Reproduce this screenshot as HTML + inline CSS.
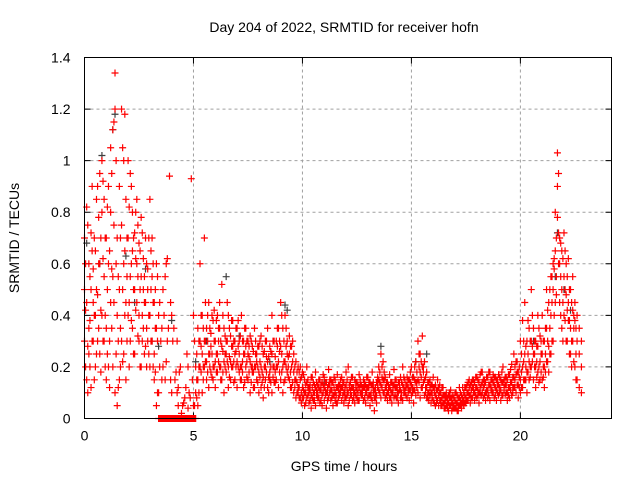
<!DOCTYPE html>
<html><head><meta charset="utf-8"><style>
html,body{margin:0;padding:0;background:#fff;}
svg text{font-family:"Liberation Sans",sans-serif;font-size:14px;fill:#000;}
</style></head><body>
<svg id="chart" width="640" height="480" viewBox="0 0 640 480" xmlns="http://www.w3.org/2000/svg">
<rect width="640" height="480" fill="#fff"/>
<text x="344" y="32" text-anchor="middle">Day 204 of 2022, SRMTID for receiver hofn</text>
<text x="344" y="471" text-anchor="middle">GPS time / hours</text>
<text transform="translate(19,238) rotate(-90)" text-anchor="middle">SRMTID / TECUs</text>
<g id="grid"></g>
<g id="ticks"></g>
<g id="marks"></g>
<rect x="84.5" y="57.5" width="527" height="361" fill="none" stroke="#000" stroke-width="1"/>
</svg>
<script>
const xTicks=[0,5,10,15,20];
const yTicks=[0,0.2,0.4,0.6,0.8,1,1.2,1.4];
const yTickLabels=["0","0.2","0.4","0.6","0.8","1","1.2","1.4"];
const slotStart=0, slotStep=0.1;
const redVals=[
[0.3,0.7,0.5],[0.15,0.45,0.82],[0.25,0.6,0.35],[0.12,0.5,0.72],[0.3,0.58,0.45],[0.2,0.65,0.4],[0.48,0.9,0.3],[0.6,0.95,0.25],[0.8,1.0,0.4],[0.55,0.85,0.3],
[0.35,0.7,0.15],[0.6,0.9,0.2],[0.45,0.8,1.05],[0.2,1.12,0.55],[1.34,1.2,0.1],[0.4,0.7,0.05],[0.15,0.5,0.9],[0.75,0.3,1.2],[1.0,0.6,0.25],[0.45,0.85,0.15],
[0.7,1.0,0.4],[0.55,0.95,0.3],[0.8,0.65,0.35],[0.5,0.72,0.25],[0.6,0.85,0.45],[0.4,0.68,0.3],[0.55,0.78,0.2],[0.35,0.62,0.5],[0.45,0.7,0.28],[0.3,0.5,0.58],
[0.85,0.4,0.2],[0.55,0.3,0.7],[0.25,0.45,0.15],[0.35,0.6,0.05],[0.1,0.4,0.0],[0.0,0.3,0.0],[0.2,0.5,0.0],[0.0,0.55,0.15],[0.62,0.0,0.3],[0.0,0.94,0.0],
[0.1,0.0,0.4],[0.0,0.35,0.0],[0.0,0.18,0.0],[0.05,0.0,0.12],[0.0,0.2,0.0],[0.0,0.05,0.0],[0.0,0.08,0.0],[0.0,0.25,0.0],[0.0,0.1,0.0],[0.0,0.93,0.0],
[0.0,0.05,0.4],[0.1,0.0,0.2],[0.15,0.35,0.05],[0.2,0.6,0.3],[0.25,0.4,0.1],[0.3,0.7,0.2],[0.35,0.15,0.22],[0.25,0.45,0.12],[0.28,0.18,0.33],[0.2,0.38,0.15],
[0.3,0.22,0.12],[0.25,0.4,0.18],[0.35,0.2,0.45],[0.28,0.15,0.52],[0.22,0.35,0.1],[0.3,0.18,0.25],[0.2,0.4,0.12],[0.32,0.22,0.15],[0.28,0.2,0.38],[0.25,0.15,0.3],
[0.22,0.35,0.12],[0.3,0.18,0.25],[0.4,0.2,0.15],[0.25,0.3,0.12],[0.2,0.35,0.28],[0.15,0.25,0.3],[0.22,0.1,0.32],[0.28,0.18,0.2],[0.2,0.35,0.12],[0.15,0.25,0.22],
[0.18,0.28,0.1],[0.2,0.12,0.32],[0.25,0.16,0.08],[0.15,0.3,0.2],[0.22,0.12,0.35],[0.18,0.28,0.15],[0.25,0.4,0.1],[0.2,0.14,0.3],[0.3,0.2,0.15],[0.22,0.35,0.12],
[0.28,0.15,0.45],[0.2,0.35,0.1],[0.4,0.22,0.15],[0.3,0.18,0.25],[0.25,0.15,0.32],[0.2,0.12,0.28],[0.18,0.1,0.25],[0.15,0.22,0.08],[0.2,0.12,0.1],[0.15,0.08,0.2],
[0.12,0.08,0.18],[0.1,0.05,0.15],[0.14,0.08,0.2],[0.06,0.12,0.1],[0.16,0.09,0.04],[0.1,0.14,0.07],[0.12,0.05,0.18],[0.08,0.13,0.1],[0.15,0.06,0.11],[0.09,0.14,0.05],
[0.12,0.07,0.16],[0.1,0.04,0.14],[0.13,0.08,0.19],[0.07,0.11,0.15],[0.14,0.09,0.05],[0.1,0.15,0.07],[0.12,0.06,0.17],[0.09,0.13,0.1],[0.16,0.07,0.12],[0.1,0.14,0.06],
[0.13,0.08,0.18],[0.1,0.05,0.2],[0.14,0.09,0.11],[0.07,0.12,0.16],[0.15,0.1,0.06],[0.11,0.14,0.08],[0.12,0.07,0.17],[0.09,0.13,0.1],[0.15,0.07,0.12],[0.1,0.13,0.06],
[0.12,0.08,0.16],[0.09,0.05,0.14],[0.13,0.07,0.18],[0.08,0.11,0.03],[0.14,0.09,0.06],[0.11,0.15,0.2],[0.13,0.08,0.25],[0.1,0.15,0.22],[0.16,0.08,0.12],[0.1,0.14,0.07],
[0.12,0.08,0.17],[0.1,0.06,0.14],[0.13,0.08,0.19],[0.08,0.12,0.15],[0.14,0.1,0.06],[0.11,0.16,0.08],[0.13,0.07,0.2],[0.1,0.15,0.11],[0.16,0.08,0.13],[0.11,0.15,0.07],
[0.13,0.09,0.2],[0.11,0.06,0.16],[0.14,0.09,0.22],[0.15,0.3,0.1],[0.18,0.25,0.08],[0.2,0.32,0.12],[0.15,0.22,0.09],[0.12,0.18,0.08],[0.14,0.07,0.1],[0.1,0.13,0.06],
[0.12,0.07,0.16],[0.09,0.05,0.13],[0.11,0.07,0.15],[0.07,0.1,0.13],[0.12,0.08,0.05],[0.09,0.06,0.04],[0.08,0.05,0.1],[0.06,0.09,0.03],[0.08,0.05,0.11],[0.06,0.09,0.04],
[0.07,0.04,0.1],[0.06,0.03,0.09],[0.08,0.05,0.12],[0.06,0.09,0.04],[0.1,0.07,0.05],[0.08,0.12,0.06],[0.1,0.07,0.14],[0.09,0.13,0.06],[0.12,0.08,0.15],[0.1,0.14,0.07],
[0.12,0.08,0.16],[0.1,0.06,0.14],[0.13,0.09,0.18],[0.08,0.12,0.15],[0.14,0.1,0.07],[0.11,0.16,0.08],[0.13,0.07,0.18],[0.1,0.15,0.11],[0.16,0.08,0.13],[0.11,0.15,0.07],
[0.13,0.09,0.17],[0.11,0.07,0.15],[0.14,0.09,0.2],[0.09,0.13,0.16],[0.15,0.1,0.07],[0.12,0.17,0.08],[0.14,0.09,0.21],[0.12,0.16,0.25],[0.17,0.1,0.22],[0.13,0.18,0.08],
[0.15,0.1,0.3],[0.2,0.38,0.12],[0.25,0.15,0.45],[0.18,0.3,0.1],[0.22,0.15,0.35],[0.3,0.5,0.2],[0.25,0.35,0.15],[0.2,0.3,0.12],[0.28,0.18,0.4],[0.22,0.15,0.32],
[0.25,0.15,0.4],[0.3,0.2,0.12],[0.35,0.22,0.5],[0.28,0.18,0.45],[0.4,0.25,0.55],[0.5,0.3,0.6],[0.65,0.45,0.8],[0.78,1.03,0.9],[0.6,0.45,0.7],[0.5,0.35,0.65],
[0.55,0.4,0.72],[0.6,0.3,0.48],[0.45,0.38,0.62],[0.35,0.5,0.25],[0.42,0.3,0.55],[0.38,0.2,0.45],[0.3,0.15,0.4],[0.25,0.35,0.12],[0.2,0.3,0.1]
];
/* second, interleaved sampling (half-slot offset) covering 0.05 h .. 22.55 h */
const slotStart2=0.05;
const redVals2=[
[0.42,0.2,0.6],[0.28,0.75,0.1],[0.55,0.38,0.2],[0.65,0.3,0.9],[0.4,0.15,0.7],[0.5,0.25,0.85],[0.35,0.6,0.78],[0.42,0.18,0.7],[0.62,0.3,0.92],[0.7,0.4,0.2],
[0.5,0.25,0.82],[0.3,0.65,0.12],[0.58,0.95,0.35],[0.75,0.45,1.15],[0.6,0.25,1.0],[0.3,0.55,0.12],[0.35,0.7,0.2],[0.5,1.05,0.22],[0.65,0.4,1.18],[0.3,0.7,0.55],
[0.45,0.82,0.2],[0.6,0.38,0.9],[0.5,0.7,0.25],[0.42,0.62,0.8],[0.32,0.55,0.75],[0.5,0.2,0.65],[0.4,0.72,0.3],[0.55,0.25,0.45],[0.6,0.35,0.2],[0.4,0.7,0.25],
[0.5,0.3,0.65],[0.2,0.45,0.6],[0.35,0.18,0.5],[0.3,0.1,0.55],[0.0,0.2,0.45],[0.35,0.0,0.15],[0.0,0.4,0.0],[0.22,0.0,0.6],[0.0,0.35,0.0],[0.0,0.45,0.15],
[0.0,0.3,0.0],[0.0,0.15,0.0],[0.1,0.0,0.3],[0.0,0.18,0.0],[0.0,0.02,0.0],[0.06,0.0,0.0],[0.0,0.12,0.0],[0.0,0.04,0.2],[0.0,0.08,0.0],[0.0,0.15,0.0],
[0.05,0.0,0.3],[0.15,0.08,0.25],[0.3,0.2,0.1],[0.18,0.4,0.28],[0.35,0.2,0.15],[0.22,0.45,0.3],[0.3,0.18,0.4],[0.2,0.35,0.25],[0.4,0.25,0.16],[0.3,0.2,0.42],
[0.25,0.38,0.18],[0.35,0.22,0.3],[0.2,0.3,0.15],[0.4,0.26,0.18],[0.32,0.2,0.25],[0.22,0.45,0.3],[0.35,0.24,0.16],[0.28,0.38,0.2],[0.22,0.3,0.14],[0.35,0.2,0.26],
[0.28,0.2,0.38],[0.2,0.32,0.15],[0.3,0.22,0.18],[0.35,0.25,0.14],[0.22,0.3,0.16],[0.28,0.18,0.24],[0.3,0.2,0.14],[0.18,0.26,0.12],[0.25,0.2,0.3],[0.2,0.14,0.28],
[0.22,0.16,0.3],[0.28,0.18,0.14],[0.2,0.26,0.12],[0.24,0.18,0.3],[0.16,0.24,0.1],[0.26,0.2,0.14],[0.2,0.3,0.16],[0.24,0.14,0.18],[0.35,0.2,0.28],[0.18,0.26,0.3],
[0.25,0.18,0.4],[0.3,0.14,0.22],[0.2,0.28,0.35],[0.24,0.16,0.2],[0.18,0.28,0.12],[0.22,0.14,0.3],[0.15,0.2,0.12],[0.18,0.1,0.14],[0.12,0.18,0.08],[0.1,0.16,0.06],
[0.11,0.17,0.08],[0.13,0.06,0.1],[0.09,0.15,0.12],[0.11,0.07,0.13],[0.12,0.08,0.16],[0.1,0.13,0.07],[0.14,0.09,0.11],[0.08,0.12,0.15],[0.11,0.07,0.13],[0.13,0.1,0.17],
[0.09,0.14,0.11],[0.12,0.07,0.1],[0.15,0.1,0.13],[0.08,0.11,0.14],[0.12,0.16,0.09],[0.09,0.12,0.06],[0.13,0.08,0.11],[0.1,0.15,0.12],[0.12,0.09,0.14],[0.08,0.12,0.1],
[0.11,0.15,0.09],[0.13,0.07,0.12],[0.09,0.12,0.16],[0.12,0.1,0.08],[0.14,0.09,0.12],[0.1,0.13,0.07],[0.13,0.1,0.15],[0.09,0.12,0.11],[0.12,0.08,0.14],[0.1,0.16,0.12],
[0.12,0.09,0.14],[0.1,0.13,0.08],[0.14,0.1,0.12],[0.08,0.12,0.1],[0.12,0.16,0.14],[0.14,0.18,0.1],[0.12,0.2,0.16],[0.15,0.1,0.18],[0.12,0.14,0.09],[0.1,0.13,0.11],
[0.11,0.14,0.08],[0.13,0.1,0.12],[0.09,0.12,0.15],[0.12,0.1,0.08],[0.14,0.11,0.12],[0.1,0.14,0.08],[0.12,0.1,0.16],[0.09,0.13,0.12],[0.12,0.15,0.1],[0.14,0.18,0.11],
[0.12,0.16,0.1],[0.15,0.11,0.2],[0.12,0.18,0.14],[0.2,0.14,0.25],[0.16,0.22,0.12],[0.14,0.2,0.18],[0.12,0.16,0.1],[0.1,0.14,0.08],[0.12,0.09,0.15],[0.1,0.13,0.08],
[0.1,0.06,0.12],[0.08,0.11,0.06],[0.09,0.05,0.12],[0.07,0.1,0.05],[0.09,0.06,0.12],[0.07,0.04,0.09],[0.06,0.08,0.04],[0.08,0.05,0.1],[0.06,0.03,0.08],[0.05,0.08,0.04],
[0.06,0.1,0.04],[0.05,0.08,0.03],[0.07,0.1,0.05],[0.08,0.12,0.06],[0.09,0.06,0.12],[0.1,0.13,0.07],[0.09,0.12,0.15],[0.11,0.08,0.14],[0.1,0.15,0.12],[0.12,0.09,0.16],
[0.11,0.15,0.09],[0.12,0.17,0.1],[0.1,0.14,0.18],[0.13,0.09,0.15],[0.11,0.16,0.1],[0.13,0.09,0.18],[0.11,0.15,0.12],[0.14,0.1,0.17],[0.12,0.16,0.09],[0.1,0.13,0.15],
[0.12,0.16,0.1],[0.14,0.09,0.18],[0.11,0.15,0.12],[0.13,0.1,0.16],[0.12,0.17,0.09],[0.14,0.11,0.19],[0.12,0.16,0.1],[0.15,0.2,0.12],[0.13,0.18,0.22],[0.16,0.12,0.2],
[0.18,0.12,0.25],[0.15,0.22,0.3],[0.2,0.28,0.15],[0.25,0.18,0.38],[0.3,0.2,0.16],[0.22,0.4,0.28],[0.3,0.2,0.25],[0.28,0.16,0.22],[0.2,0.35,0.14],[0.25,0.18,0.3],
[0.2,0.3,0.16],[0.25,0.35,0.18],[0.3,0.42,0.22],[0.35,0.25,0.5],[0.45,0.3,0.55],[0.4,0.58,0.62],[0.55,0.7,0.48],[0.72,0.95,0.6],[0.55,0.4,0.68],[0.45,0.62,0.3],
[0.5,0.38,0.65],[0.42,0.55,0.3],[0.38,0.25,0.5],[0.3,0.45,0.2],[0.35,0.22,0.4],[0.25,0.35,0.15]
];
const grayT=[0.1,0.7,0.8,1.3,1.4,1.9,2.3,2.8,3.1,3.4,4.0,5.1,5.6,6.5,7.1,8.5,9.2,9.3,11.0,13.6,15.2,15.7,18.3,20.6,21.6,21.7,22.0,22.3];
const grayV=[0.68,0.6,1.02,1.12,1.18,0.63,0.45,0.58,0.3,0.28,0.38,0.22,0.3,0.55,0.32,0.22,0.44,0.42,0.14,0.28,0.22,0.25,0.12,0.3,0.55,0.72,0.5,0.42];
const X0=0, X1=24.18, Y0=0, Y1=1.4;
const L=84.5, R=611.5, T=57.5, B=418.5;
function sx(v){return L+(v-X0)/(X1-X0)*(R-L);}
function sy(v){return B-(v-Y0)/(Y1-Y0)*(B-T);}
const NS="http://www.w3.org/2000/svg";
const grid=document.getElementById('grid'), ticks=document.getElementById('ticks'), marks=document.getElementById('marks');
function mk(tag,attrs,parent){const e=document.createElementNS(NS,tag);for(const k in attrs)e.setAttribute(k,attrs[k]);parent.appendChild(e);return e;}
xTicks.forEach((t,i)=>{
  const x=sx(t);
  if(i>0){const g=mk('line',{x1:x,y1:T,x2:x,y2:B,stroke:'#a0a0a0','stroke-dasharray':'3,3'},grid);
  
  }
  const tk=mk('path',{d:`M${x},${B}v-6M${x},${T}v6`,stroke:'#000'},ticks);
  
  
  const lb=mk('text',{x:x,y:B+22,'text-anchor':'middle'},ticks);lb.textContent=String(t);
  
  
});
yTicks.forEach((t,i)=>{
  const y=sy(t);
  if(i>0&&i<yTicks.length-1){const g=mk('line',{x1:L,y1:y,x2:R,y2:y,stroke:'#a0a0a0','stroke-dasharray':'3,3'},grid);
  
  }
  const tk=mk('path',{d:`M${L},${y}h6M${R},${y}h-6`,stroke:'#000'},ticks);
  
  
  const lb=mk('text',{x:L-14,y:y+5,'text-anchor':'end'},ticks);lb.textContent=yTickLabels[i];
  
  
});
function plus(x,y){return `M${x-3.5},${y}h7M${x},${y-3.5}v7`;}
let dg='';
grayT.forEach((t,i)=>{dg+=plus(sx(t),sy(grayV[i]));});
const gray=mk('path',{d:dg,stroke:'#404040','stroke-width':1.2,fill:'none'},marks);


let dr='';
redVals.forEach((vals,i)=>{const t=slotStart+i*slotStep;vals.forEach(v=>{dr+=plus(sx(t),sy(v));});});
redVals2.forEach((vals,i)=>{const t=slotStart2+i*slotStep;vals.forEach(v=>{dr+=plus(sx(t),sy(v));});});
const red=mk('path',{d:dr,stroke:'#ff0000','stroke-width':1.2,fill:'none'},marks);


</script>
</body></html>
